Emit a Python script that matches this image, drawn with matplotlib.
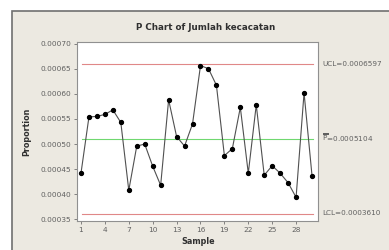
import matplotlib
matplotlib.use('Agg')
import matplotlib.pyplot as plt
from matplotlib.patches import Rectangle

samples = list(range(1, 31))
proportion = [0.000442, 0.000554, 0.000555, 0.000559, 0.000568, 0.000543,
              0.000408, 0.000496, 0.000500, 0.000456, 0.000418, 0.000588,
              0.000515, 0.000496, 0.000540, 0.000656, 0.000650, 0.000617,
              0.000477, 0.000491, 0.000573, 0.000442, 0.000578, 0.000438,
              0.000457, 0.000442, 0.000423, 0.000394, 0.000602, 0.000437]
ucl = 0.0006597
pbar = 0.0005104
lcl = 0.0003610
xticks = [1, 4, 7, 10, 13, 16, 19, 22, 25, 28]
yticks = [0.00035, 0.00040, 0.00045, 0.00050, 0.00055, 0.00060, 0.00065, 0.00070]

bg = '#ece9e1'
fig = plt.figure(figsize=(3.89, 2.5), dpi=100, facecolor='white')
# beige frame, cropped at right and bottom like the screenshot
fig.patches.append(Rectangle((12/389, -0.05), 1.1, 1 - 11/250 + 0.05,
                             transform=fig.transFigure, facecolor=bg,
                             edgecolor='#707070', linewidth=1.2, zorder=-5))

ax = fig.add_axes([77/389, 1 - 221/250, 241/389, 179/250])
ax.set_zorder(2)
ax.set_facecolor('white')

ax.axhline(ucl, color='#e08888', linewidth=0.8, xmin=0.02, xmax=0.98)
ax.axhline(pbar, color='#70d870', linewidth=0.8, xmin=0.02, xmax=0.98)
ax.axhline(lcl, color='#e08888', linewidth=0.8, xmin=0.02, xmax=0.98)
ax.plot(samples, proportion, color='#505050', linewidth=0.8,
        marker='o', markersize=2.8, markerfacecolor='black', markeredgecolor='black')

ax.set_xlim(0.5, 30.75)
ax.set_ylim(0.000347, 0.000703)
ax.set_xticks(xticks)
ax.set_yticks(yticks)
ax.set_yticklabels(['%.5f' % v for v in yticks])
ax.tick_params(labelsize=5.3, colors='#707070', labelcolor='#606060',
               length=2.5, width=0.6, pad=1.5)
for s in ax.spines.values():
    s.set_color('#909090')
    s.set_linewidth(0.8)

fig.text(206/389, 1 - 27/250, 'P Chart of Jumlah kecacatan', ha='center', va='center',
         fontsize=6.3, fontweight='bold', color='#303030')
fig.text(27/389, 1 - 132/250, 'Proportion', rotation=90, ha='center', va='center',
         fontsize=5.8, fontweight='bold', color='#303030')
fig.text(198/389, 1 - 241/250, 'Sample', ha='center', va='center',
         fontsize=5.8, fontweight='bold', color='#303030')

lab = dict(fontsize=5.2, color='#606060', va='center', ha='left')
fig.text(322/389, 1 - 64/250, 'UCL=0.0006597', **lab)
fig.text(322/389, 1 - 138/250, r'$\overline{\overline{\mathrm{P}}}$=0.0005104', **lab)
fig.text(322/389, 1 - 213/250, 'LCL=0.0003610', **lab)

fig.savefig('out.png', dpi=100, facecolor='white')
